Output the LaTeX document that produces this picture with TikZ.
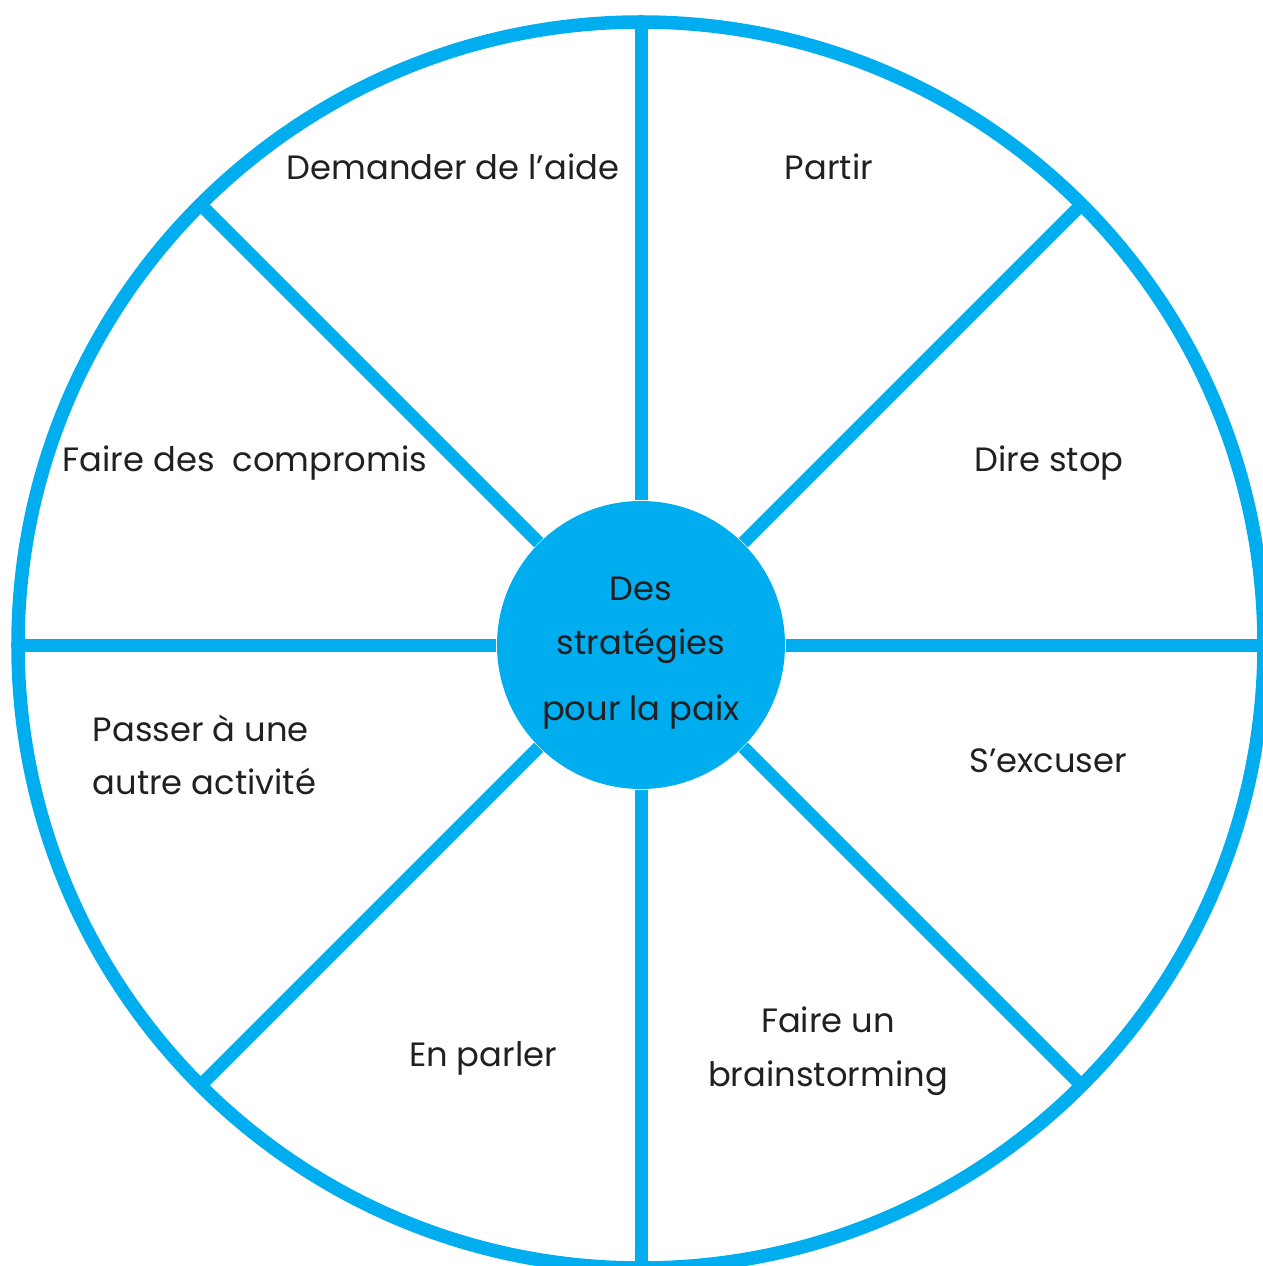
\documentclass[tikz,border=0pt]{standalone}
\usepackage{fontspec}
\setmainfont{Poppins}
\definecolor{wheel}{RGB}{0,174,239}
\definecolor{ink}{RGB}{35,31,32}
\tikzset{
  rim/.style={draw=wheel, line width=1.35mm},
  spoke/.style={draw=wheel, line width=1.3mm},
  sector/.style={text=ink, font=\fontsize{9.6}{15.3}\selectfont, inner sep=0pt},
}
\begin{document}
\begin{tikzpicture}[x=0.1mm,y=0.1mm]
\useasboundingbox (-641,-621) rectangle (621,645);
% outer wheel and hub
\draw[rim] (0,0) circle (623);
\node[circle, fill=wheel, minimum size=28.8mm, inner sep=0pt] (hub) at (0,0) {};
\foreach \a in {0,45,...,315}{
  \coordinate (r\a) at (\a:623);
  \draw[spoke] (hub.\a) -- (r\a);
}
\node[sector, align=center] (title) at (0,-8) {Des\\[0pt]stratégies\\[3.5pt]pour la paix};
% strategies
\node[sector] (aide) at (-188,478) {Demander de l’aide};
\node[sector] (partir) at (188,478) {Partir};
\node[sector] (compromis) at (-396,182) {Faire des\ \ compromis};
\node[sector] (stop) at (408,182) {Dire stop};
\node[sector, align=left, anchor=west] (activite) at (-549,-110) {Passer à une\\autre activité};
\node[sector] (excuser) at (407,-116) {S’excuser};
\node[sector] (parler) at (-158,-413) {En parler};
\node[sector, align=center] (brainstorm) at (187,-406) {Faire un\\brainstorming};
\end{tikzpicture}
\end{document}
